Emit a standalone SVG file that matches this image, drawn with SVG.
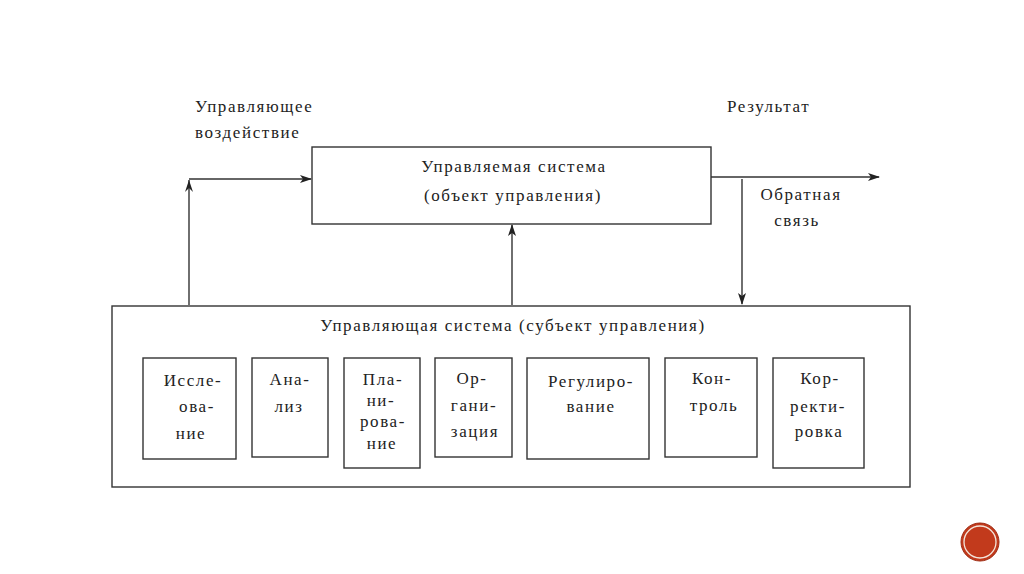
<svg xmlns="http://www.w3.org/2000/svg" width="1024" height="574" viewBox="0 0 1024 574">
<style>
.box{fill:#fff;stroke:#333;stroke-width:1.4}
.ln{fill:none;stroke:#333;stroke-width:1.4}
text{font-family:"Liberation Serif","Times New Roman",serif;font-size:17px;letter-spacing:1.6px;fill:#222}
.c{text-anchor:middle}
</style>
<defs>
<marker id="arr" viewBox="0 0 12 8" refX="11" refY="4" markerWidth="12" markerHeight="8" markerUnits="userSpaceOnUse" orient="auto">
<path d="M0,0 L12,4 L0,8 L3,4 z" fill="#222"/>
</marker>
</defs>
<rect width="1024" height="574" fill="#fff"/>

<g id="connectors">
<polyline class="ln" points="189,305 189,180"/>
<path d="M185,192 L189,180 L193,192 L189,188 z" fill="#222"/>
<line class="ln" x1="189" y1="179" x2="311" y2="179" marker-end="url(#arr)"/>
<line class="ln" x1="512" y1="305" x2="512" y2="225" marker-end="url(#arr)"/>
<line class="ln" x1="711" y1="177" x2="879" y2="177" marker-end="url(#arr)"/>
<line class="ln" x1="742" y1="179" x2="742" y2="304" marker-end="url(#arr)"/>
<line class="ln" x1="236" y1="407" x2="252" y2="407"/>
<line class="ln" x1="328" y1="407" x2="344" y2="407"/>
<line class="ln" x1="420" y1="407" x2="435" y2="407"/>
<line class="ln" x1="512" y1="407" x2="527" y2="407"/>
<line class="ln" x1="649" y1="407" x2="665" y2="407"/>
<line class="ln" x1="757" y1="407" x2="773" y2="407"/>
</g>

<g id="label-input">
<text x="195" y="112">Управляющее</text>
<text x="195" y="138">воздействие</text>
</g>
<g id="label-result">
<text x="727" y="112">Результат</text>
</g>
<g id="label-feedback">
<text class="c" x="801" y="200">Обратная</text>
<text class="c" x="797" y="226">связь</text>
</g>

<g id="managed-system">
<rect class="box" x="312" y="147" width="399" height="77"/>
<text class="c" x="514" y="172">Управляемая система</text>
<text class="c" x="513" y="201">(объект управления)</text>
</g>

<g id="managing-system">
<rect class="box" x="112" y="306" width="798" height="181"/>
<text class="c" x="513" y="331">Управляющая система (субъект управления)</text>
</g>

<g id="n-research">
<rect class="box" x="143" y="358" width="93" height="101"/>
<text class="c" x="193" y="386">Иссле-</text>
<text class="c" x="197" y="412">ова-</text>
<text class="c" x="191" y="439">ние</text>
</g>
<g id="n-analysis">
<rect class="box" x="252" y="358" width="76" height="99"/>
<text class="c" x="290" y="385">Ана-</text>
<text class="c" x="289" y="412">лиз</text>
</g>
<g id="n-planning">
<rect class="box" x="344" y="358" width="76" height="110"/>
<text class="c" x="383" y="385">Пла-</text>
<text class="c" x="381" y="406">ни-</text>
<text class="c" x="383" y="427">рова-</text>
<text class="c" x="382" y="449">ние</text>
</g>
<g id="n-organization">
<rect class="box" x="435" y="358" width="77" height="99"/>
<text class="c" x="472" y="384">Ор-</text>
<text class="c" x="474" y="411">гани-</text>
<text class="c" x="475" y="437">зация</text>
</g>
<g id="n-regulation">
<rect class="box" x="527" y="358" width="122" height="101"/>
<text class="c" x="591" y="387">Регулиро-</text>
<text class="c" x="591" y="412">вание</text>
</g>
<g id="n-control">
<rect class="box" x="665" y="358" width="92" height="99"/>
<text class="c" x="712" y="384">Кон-</text>
<text class="c" x="714" y="411">троль</text>
</g>
<g id="n-correction">
<rect class="box" x="773" y="358" width="91" height="110"/>
<text class="c" x="820" y="384">Кор-</text>
<text class="c" x="818" y="412">ректи-</text>
<text class="c" x="819" y="437">ровка</text>
</g>

<g id="badge">
<circle cx="980" cy="542" r="19" fill="#c23a1c" stroke="#9e2a12" stroke-width="1"/>
<circle cx="980" cy="542" r="16" fill="none" stroke="#f3e6dc" stroke-width="1.3"/>
</g>
</svg>
